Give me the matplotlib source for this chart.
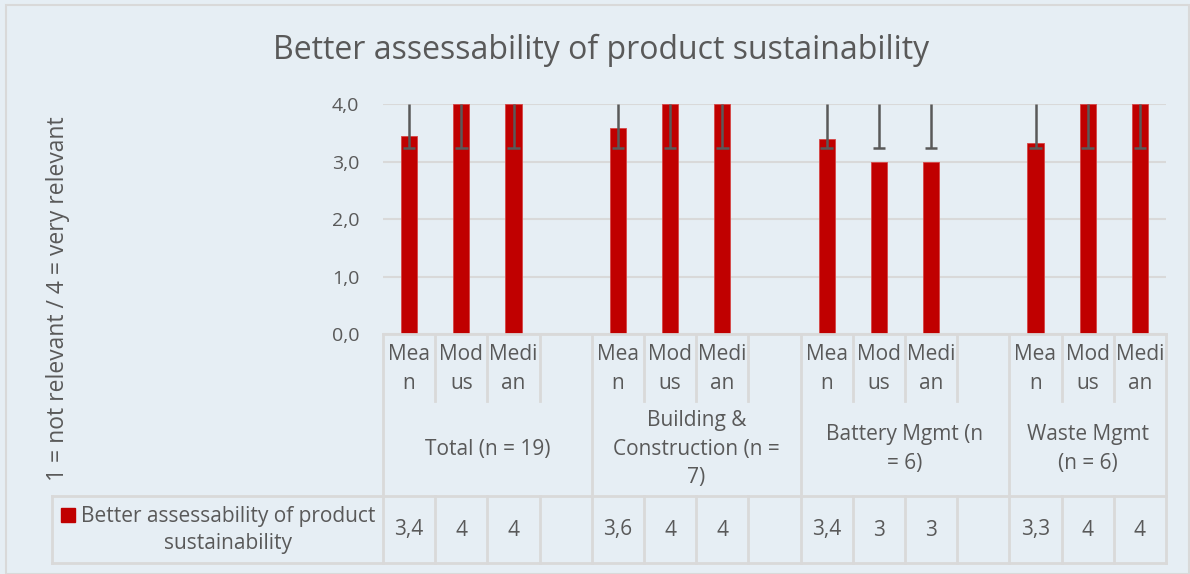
import matplotlib.pyplot as plt
from matplotlib.lines import Line2D
from matplotlib.patches import Rectangle

# data
stats = ['Mea\nn', 'Mod\nus', 'Medi\nan', '',
         'Mea\nn', 'Mod\nus', 'Medi\nan', '',
         'Mea\nn', 'Mod\nus', 'Medi\nan', '',
         'Mea\nn', 'Mod\nus', 'Medi\nan']
groups = ['Total (n = 19)', 'Building &\nConstruction (n =\n7)',
          'Battery Mgmt (n\n= 6)', 'Waste Mgmt\n(n = 6)']
group_sizes = [4, 4, 4, 3]
values = [3.44, 4, 4, None, 3.58, 4, 4, None, 3.4, 3, 3, None, 3.33, 4, 4]
value_labels = ['3,4', '4', '4', '', '3,6', '4', '4', '', '3,4', '3', '3', '', '3,3', '4', '4']
err_low = [3.23, 3.23, 3.23, None, 3.23, 3.23, 3.23, None,
           3.23, 3.23, 3.23, None, 3.23, 3.23, 3.23]
series_name = 'Better assessability of product\nsustainability'

bg = '#E6EEF4'
red = '#C00000'
txt = '#595959'
grid_c = '#D9D9D9'

plt.rcParams['font.family'] = ['Open Sans', 'DejaVu Sans']

W, H = 1190, 574
fig = plt.figure(figsize=(W / 100, H / 100), dpi=100)
fig.patch.set_facecolor(bg)

def fx(px):
    return px / W

def fy(py):
    return 1 - py / H

left, right, top, bottom = 383, 1166, 104, 334
ax = fig.add_axes([fx(left), fy(bottom), fx(right - left), fy(top) - fy(bottom)])
ax.set_facecolor(bg)
n = len(stats)
ax.set_xlim(-0.5, n - 0.5)
ax.set_ylim(0, 4)

xs = [i for i, v in enumerate(values) if v is not None]
vals = [v for v in values if v is not None]
ax.bar(xs, vals, width=0.31, color=red, edgecolor='#D64545', lw=0.6, zorder=3)

# error bars (upper part clipped by axis top)
for i, lo in enumerate(err_low):
    if lo is None:
        continue
    ax.vlines(i, lo, 4.0, color='#595959', lw=1.8, zorder=4)
    ax.hlines(lo, i - 0.12, i + 0.12, color='#595959', lw=1.8, zorder=4)

ax.set_yticks([0, 1, 2, 3, 4])
ax.set_yticklabels(['0,0', '1,0', '2,0', '3,0', '4,0'], color=txt, fontsize=14)
ax.tick_params(axis='y', length=0, pad=17)
ax.set_xticks([])
ax.grid(axis='y', color=grid_c, lw=1.5, zorder=0)
for s in ax.spines.values():
    s.set_visible(False)

fig.text(fx(601), fy(50), 'Better assessability of product sustainability',
         ha='center', va='center', fontsize=23, color=txt)
fig.text(fx(58), fy(299), '1 = not relevant / 4 = very relevant', rotation=90,
         ha='center', va='center', fontsize=16.5, color=txt)

# data table
col_w = (right - left) / n

def col_x(i):
    return left + i * col_w

row1_b, row2_b, row3_b = 401, 496, 563
leg_left = 52

def line(x0, y0, x1, y1):
    fig.add_artist(Line2D([fx(x0), fx(x1)], [fy(y0), fy(y1)], color=grid_c, lw=2))

line(left, bottom, right, bottom)
line(leg_left, row2_b, right, row2_b)
line(leg_left, row3_b, right, row3_b)
line(leg_left, row2_b, leg_left, row3_b)

edges = [0]
for g in group_sizes:
    edges.append(edges[-1] + g)
for i in range(n + 1):
    x = col_x(i)
    if i in edges:
        line(x, bottom, x, row3_b)
    else:
        line(x, bottom, x, row1_b)
        line(x, row2_b, x, row3_b)

for i, s in enumerate(stats):
    fig.text(fx(col_x(i) + col_w / 2), fy(369), s,
             ha='center', va='center', fontsize=15, color=txt, linespacing=1.55)
    fig.text(fx(col_x(i) + col_w / 2), fy(530), value_labels[i],
             ha='center', va='center', fontsize=15, color=txt)

for k, g in enumerate(groups):
    cx = (col_x(edges[k]) + col_x(edges[k + 1])) / 2
    fig.text(fx(cx), fy(449), g,
             ha='center', va='center', fontsize=15, color=txt, linespacing=1.45)

fig.add_artist(Rectangle((fx(61), fy(522)), fx(14), fy(508) - fy(522), color=red))
fig.text(fx(228), fy(530), series_name, ha='center', va='center',
         fontsize=15, color=txt, linespacing=1.42)

# outer frame
fig.add_artist(Rectangle((fx(6), 0), fx(W - 7), fy(5), fill=False, ec=grid_c, lw=1.5))

fig.savefig('out.png', dpi=100, facecolor=bg)
